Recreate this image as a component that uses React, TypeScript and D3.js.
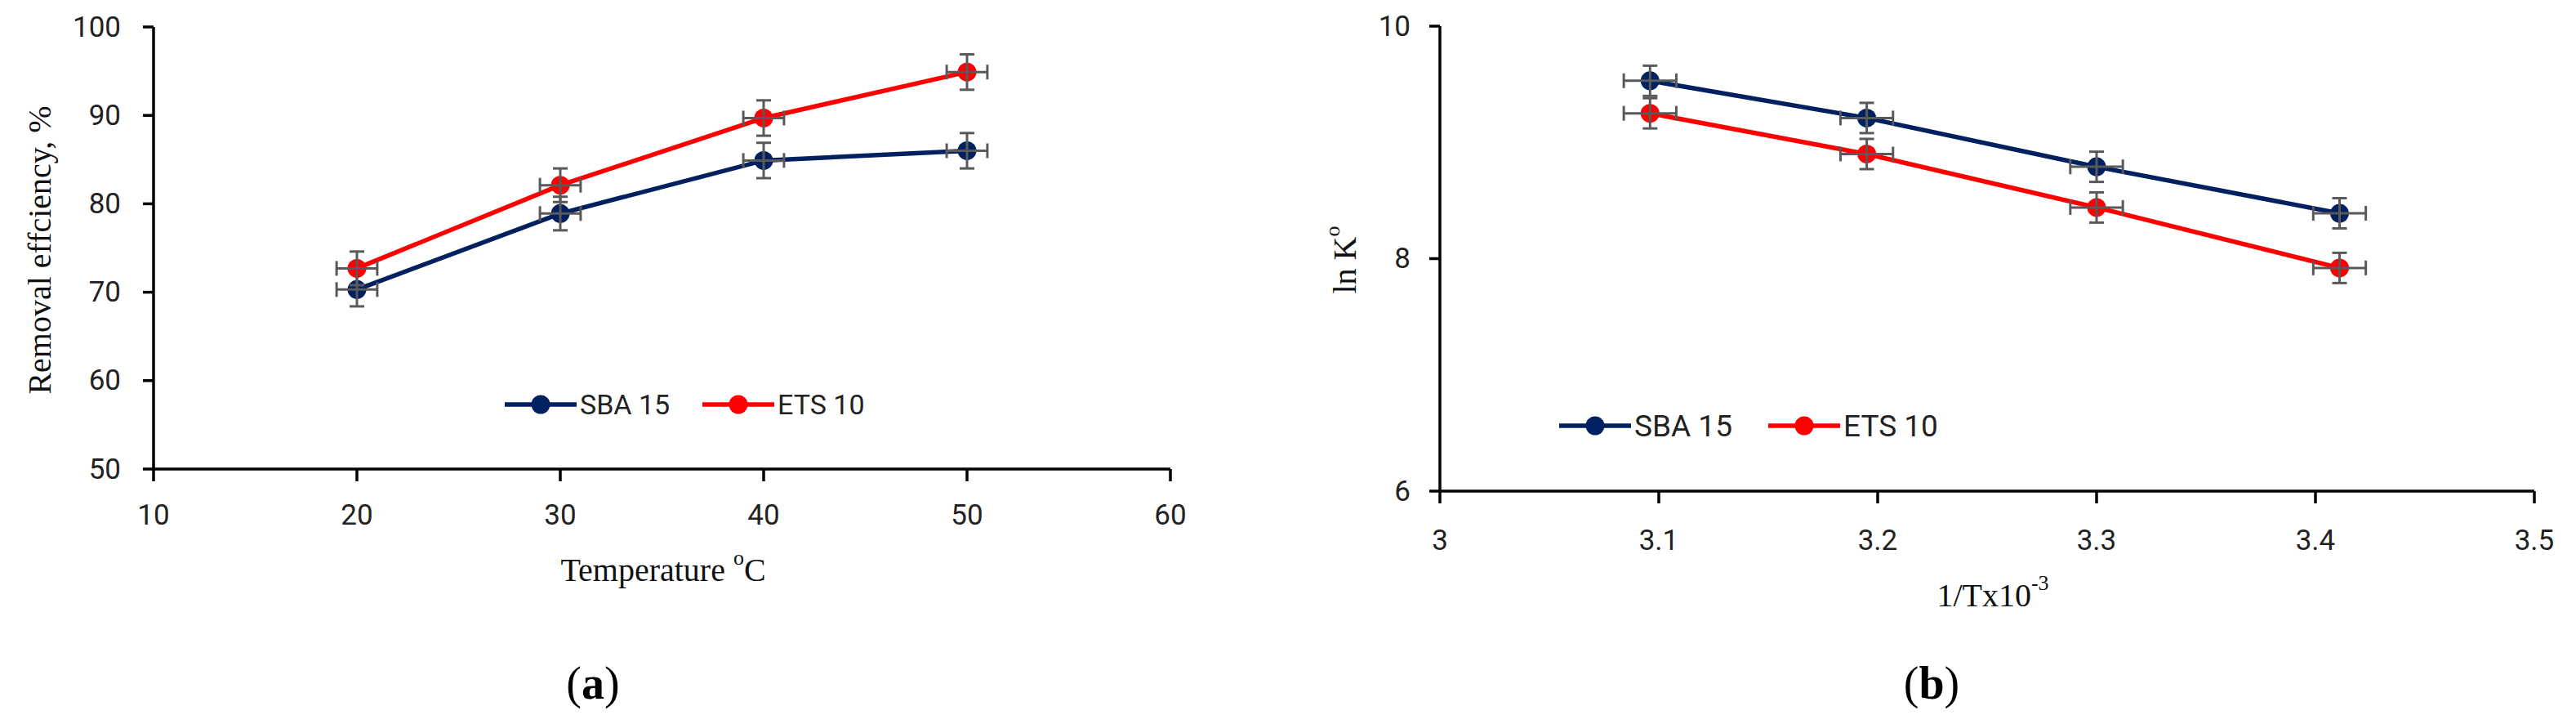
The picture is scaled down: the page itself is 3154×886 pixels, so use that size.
import React, { useEffect, useRef } from "react";
import * as d3 from "d3";

// panel (a): removal efficiency vs temperature
const tempC = [20, 30, 40, 50];
const sbaRemoval = [70.3, 78.9, 84.9, 86.0];
const etsRemoval = [72.7, 82.1, 89.7, 94.9];
const removalErr = [1.9, 1.9, 2.0, 2.0];
const tempErr = [1, 1, 1, 1];
const tempTicks = [10, 20, 30, 40, 50, 60];
const removalTicks = [50, 60, 70, 80, 90, 100];

// panel (b): ln K vs 1/T
const invT = [3.096, 3.195, 3.3, 3.411];
const sbaLnK = [9.53, 9.21, 8.79, 8.39];
const etsLnK = [9.25, 8.9, 8.44, 7.92];
const lnKErr = [0.13, 0.13, 0.13, 0.13];
const invTErr = [0.012, 0.012, 0.012, 0.012];
const invTTicks = [3, 3.1, 3.2, 3.3, 3.4, 3.5];
const lnKTicks = [6, 8, 10];

const seriesNames = ["SBA 15", "ETS 10"];
const seriesColors = ["#002060", "#ff0000"];

const sans = "Roboto, 'Open Sans', sans-serif";
const serif = "'Liberation Serif', 'DejaVu Serif', serif";

function drawPanel(svg, cfg) {
  const x = d3.scaleLinear().domain(cfg.xDomain).range(cfg.xRange);
  const y = d3.scaleLinear().domain(cfg.yDomain).range(cfg.yRange);
  const g = svg.append("g");
  const x0 = cfg.xRange[0];
  const y0 = cfg.yRange[0];

  // axes
  g.append("line").attr("x1", x0).attr("x2", x0).attr("y1", cfg.yRange[1]).attr("y2", y0)
    .attr("stroke", "#000").attr("stroke-width", 3.5);
  g.append("line").attr("x1", x0).attr("x2", cfg.xRange[1]).attr("y1", y0).attr("y2", y0)
    .attr("stroke", "#000").attr("stroke-width", 3.5);

  g.selectAll(".xt").data(cfg.xTicks).join("line")
    .attr("x1", d => x(d)).attr("x2", d => x(d)).attr("y1", y0).attr("y2", y0 + 15)
    .attr("stroke", "#000").attr("stroke-width", 3.5);
  g.selectAll(".yt").data(cfg.yTicks).join("line")
    .attr("x1", x0 - 13).attr("x2", x0).attr("y1", d => y(d)).attr("y2", d => y(d))
    .attr("stroke", "#000").attr("stroke-width", 3.5);

  g.selectAll(".xl").data(cfg.xTicks).join("text")
    .attr("x", d => x(d)).attr("y", y0 + cfg.xLabelOffset)
    .attr("text-anchor", "middle").attr("dominant-baseline", "central")
    .style("font", `35px ${sans}`).attr("fill", "#222")
    .text(d => String(d));
  g.selectAll(".yl").data(cfg.yTicks).join("text")
    .attr("x", x0 - cfg.yLabelOffset).attr("y", d => y(d))
    .attr("text-anchor", "end").attr("dominant-baseline", "central")
    .style("font", `35px ${sans}`).attr("fill", "#222")
    .text(d => String(d));

  // series
  const line = d3.line().x(d => x(d[0])).y(d => y(d[1]));
  cfg.series.forEach((vals, si) => {
    const pts = cfg.xs.map((xv, i) => [xv, vals[i]]);
    g.append("path").datum(pts).attr("d", line)
      .attr("fill", "none").attr("stroke", seriesColors[si]).attr("stroke-width", 5.5);
    g.selectAll(null).data(pts).join("circle")
      .attr("cx", d => x(d[0])).attr("cy", d => y(d[1])).attr("r", 11.5)
      .attr("fill", seriesColors[si]);
    const eb = g.append("g").attr("stroke", "#595959").attr("stroke-width", 3).attr("fill", "none");
    pts.forEach((d, i) => {
      const cx = x(d[0]);
      const cy = y(d[1]);
      const yt = y(d[1] + cfg.yErr[i]);
      const yb = y(d[1] - cfg.yErr[i]);
      const xl = x(d[0] - cfg.xErr[i]);
      const xr = x(d[0] + cfg.xErr[i]);
      eb.append("line").attr("x1", cx).attr("x2", cx).attr("y1", yt).attr("y2", yb);
      eb.append("line").attr("x1", cx - 9).attr("x2", cx + 9).attr("y1", yt).attr("y2", yt);
      eb.append("line").attr("x1", cx - 9).attr("x2", cx + 9).attr("y1", yb).attr("y2", yb);
      eb.append("line").attr("x1", xl).attr("x2", xr).attr("y1", cy).attr("y2", cy);
      eb.append("line").attr("x1", xl).attr("x2", xl).attr("y1", cy - 9).attr("y2", cy + 9);
      eb.append("line").attr("x1", xr).attr("x2", xr).attr("y1", cy - 9).attr("y2", cy + 9);
    });
  });

  // legend
  const lg = g.append("g").attr("transform", `translate(${cfg.legendX},${cfg.legendY})`);
  seriesNames.forEach((name, i) => {
    const ox = i * cfg.legendGap;
    lg.append("line").attr("x1", ox).attr("x2", ox + 88).attr("y1", 0).attr("y2", 0)
      .attr("stroke", seriesColors[i]).attr("stroke-width", 5.5);
    lg.append("circle").attr("cx", ox + 44).attr("cy", 0).attr("r", 11.5).attr("fill", seriesColors[i]);
    lg.append("text").attr("x", ox + 92).attr("y", 0).attr("dominant-baseline", "central")
      .style("font", `${cfg.legendFont}px ${sans}`).attr("fill", "#222").text(name);
  });

  // axis titles
  const xt = g.append("text").attr("x", cfg.xTitle.x).attr("y", cfg.xTitle.y)
    .attr("text-anchor", "middle").attr("dominant-baseline", "central")
    .style("font", `40px ${serif}`).attr("fill", "#111");
  cfg.xTitle.parts.forEach(p => {
    const t = xt.append("tspan").text(p.t);
    if (p.sup) t.attr("baseline-shift", "super").style("font-size", "26px");
  });
  const yt = g.append("text")
    .attr("transform", `translate(${cfg.yTitle.x},${cfg.yTitle.y}) rotate(-90)`)
    .attr("text-anchor", "middle").attr("dominant-baseline", "central")
    .style("font", `40px ${serif}`).attr("fill", "#111");
  cfg.yTitle.parts.forEach(p => {
    const t = yt.append("tspan").text(p.t);
    if (p.sup) t.attr("baseline-shift", "super").style("font-size", "26px");
  });

  // panel label
  const pl = g.append("text").attr("x", cfg.tag.x).attr("y", cfg.tag.y)
    .attr("text-anchor", "middle").attr("dominant-baseline", "central")
    .style("font", `56px ${serif}`).attr("fill", "#000");
  pl.append("tspan").text("(");
  pl.append("tspan").attr("font-weight", "bold").text(cfg.tag.letter);
  pl.append("tspan").text(")");
}

const App = () => {
  const ref = useRef(null);

  useEffect(() => {
    const svg = d3.select(ref.current);
    svg.selectAll("*").remove();

    drawPanel(svg, {
      xDomain: [10, 60], xRange: [188, 1433],
      yDomain: [50, 100], yRange: [574, 33],
      xTicks: tempTicks, yTicks: removalTicks,
      xLabelOffset: 56, yLabelOffset: 40,
      xs: tempC, series: [sbaRemoval, etsRemoval],
      yErr: removalErr, xErr: tempErr,
      legendX: 618, legendY: 495, legendGap: 242, legendFont: 34,
      xTitle: { x: 812, y: 697, parts: [{ t: "Temperature " }, { t: "o", sup: true }, { t: "C" }] },
      yTitle: { x: 48, y: 306, parts: [{ t: "Removal effciency, %" }] },
      tag: { x: 726, y: 836, letter: "a" },
    });

    drawPanel(svg, {
      xDomain: [3, 3.5], xRange: [1763, 3103],
      yDomain: [6, 10], yRange: [601, 32],
      xTicks: invTTicks, yTicks: lnKTicks,
      xLabelOffset: 60, yLabelOffset: 36,
      xs: invT, series: [sbaLnK, etsLnK],
      yErr: lnKErr, xErr: invTErr,
      legendX: 1909, legendY: 521, legendGap: 256, legendFont: 37,
      xTitle: { x: 2440, y: 728, parts: [{ t: "1/Tx10" }, { t: "-3", sup: true }] },
      yTitle: { x: 1646, y: 318, parts: [{ t: "ln K" }, { t: "o", sup: true }] },
      tag: { x: 2365, y: 836, letter: "b" },
    });
  }, []);

  return (
    <svg
      ref={ref}
      width={3154}
      height={886}
      style={{ position: "absolute", left: 0, top: 0, background: "#fff" }}
    />
  );
};

export default App;
